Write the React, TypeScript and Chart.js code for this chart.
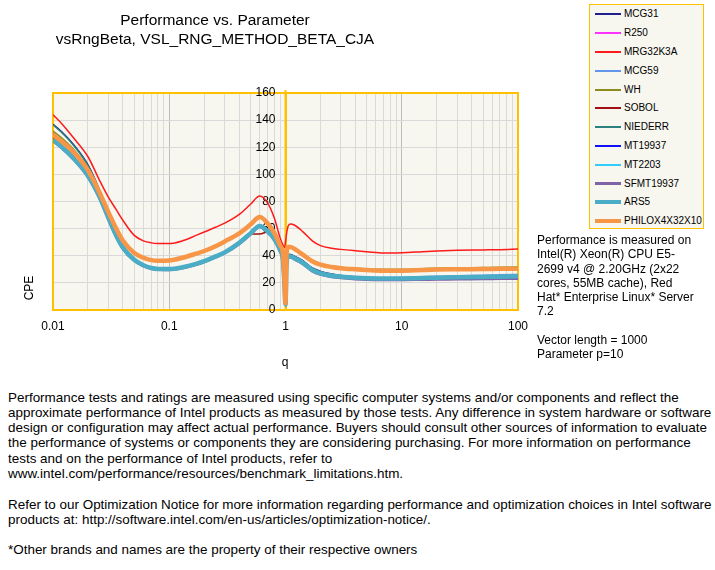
import React, { useEffect, useRef } from 'react';
import { Chart, registerables } from 'chart.js';

Chart.register(...registerables);

// ---- data ----
const Q = [0.01, 0.012, 0.015, 0.02, 0.025, 0.03, 0.035, 0.04, 0.05, 0.06, 0.07, 0.08, 0.1, 0.13, 0.17, 0.2, 0.25, 0.3, 0.4, 0.5, 0.6, 0.7, 0.8, 0.9, 0.95, 0.98, 1.0, 1.02, 1.05, 1.1, 1.2, 1.4, 1.7, 2, 2.5, 3, 4, 5, 7, 10, 15, 20, 30, 50, 70, 100];

const MCG31 = [137, 131, 122, 107, 89, 71, 57, 47, 37.5, 33, 31, 30.3, 30, 31, 33.5, 35.5, 39, 42, 48.5, 55.5, 61, 57, 52, 44, 38, 22, 6, 36, 41, 41, 39.5, 36.5, 31, 28.5, 26.5, 25.5, 24.5, 24, 23.8, 23.8, 24, 24.2, 24.5, 24.7, 25, 25.2];
const R250 = [130, 124.7, 117, 103.5, 87.5, 72, 60, 51, 42, 38.5, 36.8, 36.3, 36.4, 38.4, 41.4, 43.4, 46.8, 50.3, 56.3, 62.8, 68.3, 63.8, 56.8, 47.3, 41.8, 22, 5, 41.5, 46.3, 46.3, 44.8, 40.8, 35.8, 33.3, 31.5, 30.6, 29.8, 29.3, 28.9, 28.9, 29.3, 29.6, 29.8, 30, 30.2, 30.3];
const MRG32K3A = [144, 137, 127, 113, 96, 83, 74, 66, 55, 51, 49.5, 49, 49, 51, 55, 57.5, 61, 64, 70.5, 78, 84, 79, 68, 53, 48, 46, 50, 56, 61.5, 63.5, 62.5, 58, 51, 47.5, 45.5, 44.7, 43.7, 43, 42, 42.3, 43, 43.5, 44, 44.3, 44.5, 45];
const MCG59 = [126.5, 121, 113, 100, 85, 69, 56, 46.8, 37.5, 33.2, 31.2, 30.5, 30.4, 31.7, 34.2, 36.2, 39.7, 42.7, 49.7, 56.7, 62.2, 58.2, 52.7, 44.2, 37.5, 21, 5, 35, 40, 40, 38.5, 35.5, 30, 27.5, 25.7, 24.9, 24.2, 23.9, 23.8, 24, 24.5, 24.8, 25.2, 25.6, 25.9, 26.2];
const WH = [132, 126.5, 118.5, 104.5, 88, 72.5, 60.5, 51.5, 42.5, 39, 37.3, 36.8, 37, 39, 42, 44, 47.5, 51, 57, 63.5, 69, 64.5, 57.5, 48, 42.5, 23, 6, 41, 47, 47, 45.5, 41.5, 36.5, 34, 32.2, 31.4, 30.7, 30.3, 30, 30, 30.5, 30.8, 31, 31.3, 31.5, 31.7];
const SOBOL = [127, 121, 113, 100, 85, 69, 56, 46.5, 37.3, 33, 31, 30.3, 30.2, 31.3, 33.8, 35.8, 39.3, 42.5, 49, 56, 56, 57.5, 52.3, 44, 37.5, 20, 5, 35, 40, 40, 38.5, 35.5, 30, 27.5, 25.8, 24.9, 24.1, 23.7, 23.5, 23.5, 23.8, 24, 24.3, 24.5, 24.7, 24.9];
const NIEDERR = [136.5, 130.5, 121.5, 106.5, 88.5, 70.5, 56.5, 46.5, 37, 32.8, 31, 30.2, 30, 31, 33.5, 35.5, 39, 42.3, 48.7, 55.7, 61.3, 57.3, 52.2, 44.2, 38.2, 21, 5, 35.5, 40.8, 41, 39.3, 36.3, 30.8, 28.3, 26.3, 25.2, 24.3, 23.9, 23.7, 23.7, 24, 24.2, 24.4, 24.6, 24.8, 25];
const MT19937 = [126, 120.5, 112.5, 99.5, 84.5, 68.5, 55.5, 46.3, 37.2, 33, 31, 30.3, 30.2, 31.4, 33.9, 35.9, 39.4, 42.4, 49.3, 56.2, 61.7, 57.7, 52.3, 43.8, 37.3, 20, 5, 34.5, 39.8, 39.8, 38.2, 35.2, 29.8, 27.2, 25.5, 24.7, 23.9, 23.5, 23.3, 23.4, 23.7, 23.9, 24.2, 24.5, 24.7, 24.9];
const MT2203 = [126, 120.3, 112.3, 99.3, 84.3, 68.3, 55.3, 46.2, 37.1, 33, 31, 30.3, 30.2, 31.5, 34, 36, 39.5, 42.5, 49.5, 56.4, 61.8, 57.8, 52.4, 43.9, 37.1, 20, 5, 34.2, 39.6, 39.6, 38.1, 35.1, 29.6, 27.1, 25.4, 24.7, 23.9, 23.5, 23.3, 23.4, 23.7, 23.9, 24.2, 24.6, 24.9, 25.2];
const SFMT19937 = [125, 119.5, 111.5, 98.5, 83.5, 67.5, 54.5, 45.5, 36.7, 32.7, 30.7, 30, 29.9, 31.2, 33.7, 35.7, 39.2, 42.2, 49.2, 56.2, 61.7, 57.7, 52.2, 43.7, 36.7, 19, 4, 33.7, 39.2, 39.2, 37.6, 34.5, 29, 26.4, 24.7, 23.9, 23.1, 22.7, 22.5, 22.5, 22.7, 22.8, 23, 23.2, 23.4, 23.5];
const ARS5 = [125.5, 120, 112, 99, 84, 68, 55, 46, 37, 33, 31, 30.3, 30.2, 31.5, 34, 36, 39.5, 42.5, 49.5, 56.5, 62, 58, 52.5, 44, 37, 19, 4, 34, 39.5, 39.5, 38, 35, 29.5, 27, 25.3, 24.6, 23.8, 23.4, 23.2, 23.3, 23.6, 23.8, 24.1, 24.4, 24.6, 24.8];
const PHILOX4X32X10 = [129, 124, 116.5, 103, 87, 72, 60, 51, 42, 38.5, 36.8, 36.3, 36.5, 38.5, 41.5, 43.5, 47, 50.5, 56.5, 63, 68.5, 64, 57, 47.5, 42, 22, 5, 40, 46.5, 46.5, 45, 41, 36, 33.5, 31.7, 30.8, 30, 29.5, 29, 29, 29.5, 29.8, 30, 30.2, 30.4, 30.5];

const SERIES_NAMES = ['MCG31', 'R250', 'MRG32K3A', 'MCG59', 'WH', 'SOBOL', 'NIEDERR', 'MT19937', 'MT2203', 'SFMT19937', 'ARS5', 'PHILOX4X32X10'];
const SERIES_VALUES = [MCG31, R250, MRG32K3A, MCG59, WH, SOBOL, NIEDERR, MT19937, MT2203, SFMT19937, ARS5, PHILOX4X32X10];
const SERIES_COLORS = ['#1F1F8F', '#FF33FF', '#FF1A1A', '#6495ED', '#8C8C1E', '#A01010', '#2E8080', '#1010FF', '#33CCFF', '#7F62A8', '#4BACC6', '#F79646'];
const SERIES_WIDTHS = [1.5, 1.5, 1.5, 1.5, 1.5, 1.5, 1.5, 1.5, 1.5, 3.5, 4.5, 4.5];

const X_GRID = [0.01, 0.02, 0.03, 0.04, 0.05, 0.06, 0.07, 0.08, 0.09, 0.1, 0.2, 0.3, 0.4, 0.5, 0.6, 0.7, 0.8, 0.9, 1, 2, 3, 4, 5, 6, 7, 8, 9, 10, 20, 30, 40, 50, 60, 70, 80, 90, 100];
const X_LABELS = ['0.01', '0.1', '1', '10', '100'];
const Y_MIN = 0;
const Y_MAX = 160;
const Y_STEP = 20;

const TITLE_LINES = ['Performance vs. Parameter', 'vsRngBeta, VSL_RNG_METHOD_BETA_CJA'];
const NOTE_LINES = [
  'Performance is measured on',
  'Intel(R) Xeon(R) CPU E5-',
  '2699 v4 @ 2.20GHz (2x22',
  'cores, 55MB cache), Red',
  'Hat* Enterprise Linux* Server',
  '7.2',
  '',
  'Vector length = 1000',
  'Parameter p=10',
];
const FOOT_LINES = [
  'Performance tests and ratings are measured using specific computer systems and/or components and reflect the',
  'approximate performance of Intel products as measured by those tests. Any difference in system hardware or software',
  'design or configuration may affect actual performance. Buyers should consult other sources of information to evaluate',
  'the performance of systems or components they are considering purchasing. For more information on performance',
  'tests and on the performance of Intel products, refer to',
  'www.intel.com/performance/resources/benchmark_limitations.htm.',
  '',
  'Refer to our Optimization Notice for more information regarding performance and optimization choices in Intel software',
  'products at: http://software.intel.com/en-us/articles/optimization-notice/.',
  '',
  '*Other brands and names are the property of their respective owners',
];

const FONT = '"Liberation Sans", Arial, Helvetica, sans-serif';
const GOLD = '#FFC000';
const PLOT_BG = '#F7F6EF';

const isDecade = (v: number) => {
  const lg = Math.log10(v);
  return Math.abs(lg - Math.round(lg)) < 1e-6;
};

const framePlugin = {
  id: 'frame',
  beforeDraw(chart: any) {
    const { ctx, chartArea: a } = chart;
    ctx.save();
    ctx.fillStyle = PLOT_BG;
    ctx.fillRect(a.left, a.top, a.right - a.left, a.bottom - a.top);
    ctx.restore();
  },
  beforeDatasetsDraw(chart: any) {
    const { ctx, chartArea: a } = chart;
    const xs = chart.scales.x;
    const ys = chart.scales.y;
    const x1 = xs.getPixelForValue(1);
    ctx.save();
    ctx.strokeStyle = GOLD;
    ctx.lineWidth = 2;
    ctx.strokeRect(a.left, a.top, a.right - a.left, a.bottom - a.top);
    ctx.beginPath();
    ctx.moveTo(x1, a.top - 3);
    ctx.lineTo(x1, a.bottom);
    ctx.stroke();
    // y tick labels, placed left of the crossing axis at q = 1
    ctx.fillStyle = '#000';
    ctx.font = `12px ${FONT}`;
    ctx.textAlign = 'right';
    ctx.textBaseline = 'middle';
    ys.ticks.forEach((t: any) => {
      ctx.fillText(String(t.value), x1 - 10, ys.getPixelForValue(t.value));
    });
    ctx.restore();
  },
};

export default function App() {
  const ref = useRef<HTMLCanvasElement>(null);

  useEffect(() => {
    if (!ref.current) return;
    Chart.defaults.font.family = FONT;
    const datasets = SERIES_NAMES.map((name, i) => ({
      label: name,
      data: Q.map((q, k) => ({ x: q, y: SERIES_VALUES[i][k] })),
      borderColor: SERIES_COLORS[i],
      backgroundColor: SERIES_COLORS[i],
      borderWidth: SERIES_WIDTHS[i],
      pointRadius: 0,
      fill: false,
      cubicInterpolationMode: 'monotone' as const,
      order: SERIES_NAMES.length - i,
    }));
    const chart = new Chart(ref.current, {
      type: 'line',
      data: { datasets },
      plugins: [framePlugin],
      options: {
        responsive: false,
        animation: false,
        layout: { padding: { left: 53, right: 197, top: 93, bottom: 37.6 } },
        plugins: {
          legend: { display: false },
          tooltip: { enabled: false },
          title: { display: false },
        },
        scales: {
          x: {
            type: 'logarithmic',
            min: 0.01,
            max: 100,
            afterBuildTicks: (axis: any) => {
              axis.ticks = X_GRID.map((v) => ({ value: v, major: isDecade(v) }));
            },
            ticks: {
              autoSkip: false,
              maxRotation: 0,
              padding: 9,
              color: '#000',
              font: { size: 12, family: FONT },
              callback: (value: any) => {
                const v = Number(value);
                if (!isDecade(v)) return '';
                return X_LABELS[Math.round(Math.log10(v)) + 2];
              },
            },
            grid: {
              drawTicks: false,
              color: (ctx: any) => (ctx.tick && isDecade(ctx.tick.value) ? '#BDBDBD' : '#DADADA'),
              lineWidth: 1,
            },
            border: { color: GOLD, width: 2 },
          },
          y: {
            type: 'linear',
            position: { x: 1 } as any,
            min: Y_MIN,
            max: Y_MAX,
            ticks: {
              stepSize: Y_STEP,
              display: false,
            },
            grid: { drawTicks: false, color: '#D9D9D9', lineWidth: 1 },
            border: { color: GOLD, width: 2 },
          },
        },
      } as any,
    });
    return () => chart.destroy();
  }, []);

  return (
    <div
      style={{
        position: 'absolute',
        left: 0,
        top: 0,
        width: 715,
        height: 570,
        background: '#fff',
        overflow: 'hidden',
        fontFamily: FONT,
        color: '#000',
      }}
    >
      <canvas ref={ref} width={715} height={380} style={{ position: 'absolute', left: 0, top: 0 }} />

      <div
        style={{
          position: 'absolute',
          left: 0,
          top: 10,
          width: 430,
          textAlign: 'center',
          fontSize: 15.5,
          lineHeight: '19px',
          whiteSpace: 'nowrap',
        }}
      >
        {TITLE_LINES.map((t, i) => (
          <div key={i}>{t}</div>
        ))}
      </div>

      <div
        style={{
          position: 'absolute',
          left: 589,
          top: 4,
          width: 115,
          height: 225,
          boxSizing: 'border-box',
          border: `1.5px solid ${GOLD}`,
          background: PLOT_BG,
        }}
      />
      {SERIES_NAMES.map((name, i) => {
        const cy = 14.3 + 18.8 * i;
        const lw = Math.max(2, SERIES_WIDTHS[i] - 0.5);
        return (
          <React.Fragment key={name}>
            <div
              style={{
                position: 'absolute',
                left: 595,
                top: cy - lw / 2,
                width: 26,
                height: lw,
                background: SERIES_COLORS[i],
              }}
            />
            <div
              style={{
                position: 'absolute',
                left: 624,
                top: cy - 6,
                fontSize: 10,
                lineHeight: '12px',
                whiteSpace: 'nowrap',
              }}
            >
              {name}
            </div>
          </React.Fragment>
        );
      })}

      <div
        style={{
          position: 'absolute',
          left: 537,
          top: 233,
          fontSize: 12,
          lineHeight: '14.3px',
          whiteSpace: 'nowrap',
        }}
      >
        {NOTE_LINES.map((t, i) => (
          <div key={i} style={{ height: '14.3px' }}>{t}</div>
        ))}
      </div>

      <div
        style={{
          position: 'absolute',
          left: 265,
          top: 355,
          width: 40,
          textAlign: 'center',
          fontSize: 12,
          lineHeight: '14px',
        }}
      >
        q
      </div>
      <div
        style={{
          position: 'absolute',
          left: 9,
          top: 281,
          width: 40,
          height: 14,
          textAlign: 'center',
          fontSize: 12,
          lineHeight: '14px',
          transform: 'rotate(-90deg)',
        }}
      >
        CPE
      </div>

      <div
        style={{
          position: 'absolute',
          left: 8,
          top: 389.5,
          fontSize: 13.45,
          lineHeight: '15.3px',
          whiteSpace: 'nowrap',
        }}
      >
        {FOOT_LINES.map((t, i) => (
          <div key={i} style={{ height: '15.3px' }}>{t}</div>
        ))}
      </div>
    </div>
  );
}
